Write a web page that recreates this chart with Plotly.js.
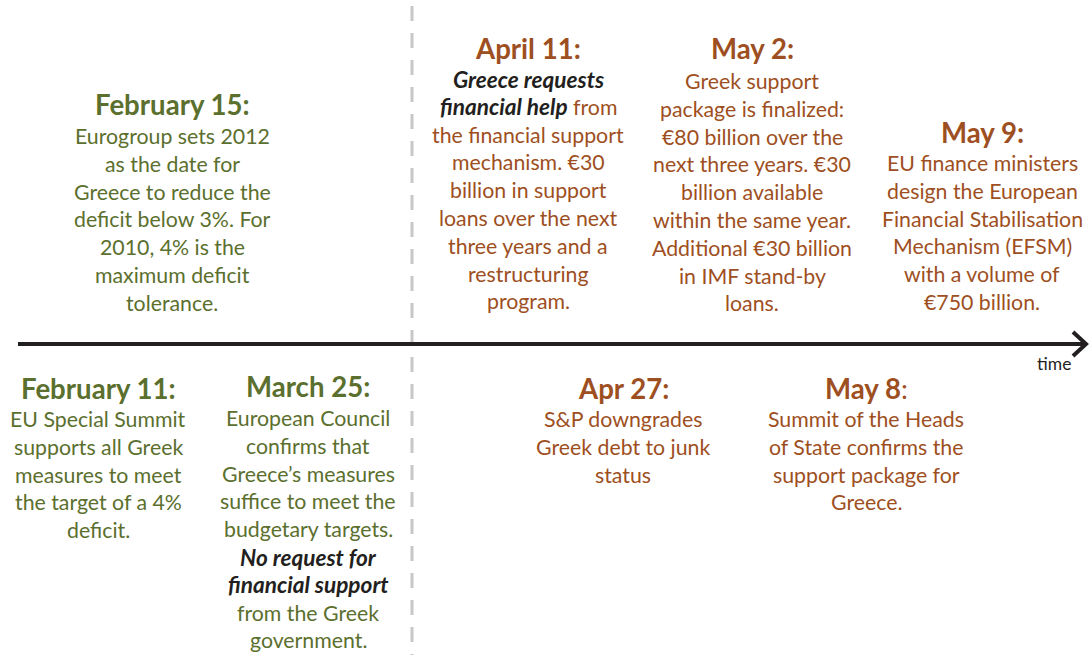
<!DOCTYPE html>
<html>
<head>
<meta charset="utf-8">
<script src="https://cdn.plot.ly/plotly-3.0.1.min.js"></script>
<style>html,body{margin:0;padding:0;background:#fff;}#chart{width:1089px;height:655px;}</style>
</head>
<body>
<div id="chart"></div>
<script>
// ---- Data: timeline events ----
var eventTitles = ["February 15:", "April 11:", "May 2:", "May 9:", "February 11:", "March 25:", "Apr 27:", "May 8:"];
var eventGroups = ["green", "brown", "brown", "brown", "green", "green", "brown", "brown"];
var eventSides = ["above", "above", "above", "above", "below", "below", "below", "below"];
var eventBodies = [
  ["Eurogroup sets 2012", "as the date for", "Greece to reduce the", "deficit below 3%. For", "2010, 4% is the", "maximum deficit", "tolerance."],
  ["<b><i>Greece requests</i></b>", "<b><i>financial help</i></b> {c}from", "{c}the financial support", "{c}mechanism. €30", "{c}billion in support", "{c}loans over the next", "{c}three years and a", "{c}restructuring", "{c}program."],
  ["Greek support", "package is finalized:", "€80 billion over the", "next three years. €30", "billion available", "within the same year.", "Additional €30 billion", "in IMF stand-by", "loans."],
  ["EU finance ministers", "design the European", "Financial Stabilisation", "Mechanism (EFSM)", "with a volume of", "€750 billion."],
  ["EU Special Summit", "supports all Greek", "measures to meet", "the target of a 4%", "deficit."],
  ["European Council", "confirms that", "Greece’s measures", "suffice to meet the", "budgetary targets.", "<b><i>No request for</i></b>", "<b><i>financial support</i></b>", "{c}from the Greek", "{c}government."],
  ["S&P downgrades", "Greek debt to junk", "status"],
  ["Summit of the Heads", "of State confirms the", "support package for", "Greece."]
];
var axisLabel = "time";

// ---- Layout positions (pixel space) ----
var eventCenterX = [172, 528, 752, 982, 98, 308, 623, 866];
var eventTitleY = [104, 48, 48, 132, 388, 386, 388, 388];
var eventFirstLineY = [136, 79, 81, 163, 419, 418, 419, 419];

var colors = {green: "#5b6f2e", brown: "#9e4f22", dark: "#231f20"};
var lineGap = 27.8;
var bodySize = 21.3;
var emphSize = 22.6;
var titleSize = 27.6;
var fontFam = "Lato, 'Open Sans', sans-serif";

var annotations = [];
for (var i = 0; i < eventTitles.length; i++) {
  var col = colors[eventGroups[i]];
  var t = eventTitles[i];
  var titleText = "<b>" + t + "</b>";
  if (t === "May 8:") titleText = "<b>May 8</b>:";
  annotations.push({
    x: eventCenterX[i], y: eventTitleY[i], xref: "x", yref: "y",
    text: titleText, showarrow: false, xanchor: "center", yanchor: "middle",
    font: {family: fontFam, size: titleSize, color: col}
  });
  var lines = eventBodies[i];
  for (var j = 0; j < lines.length; j++) {
    var ln = lines[j];
    var isBlack = ln.indexOf("<b><i>") === 0;
    var txt = ln;
    if (isBlack) {
      txt = txt.replace(/<b><i>(.*?)<\/i><\/b>/, "<b><i><span style='font-size:" + emphSize + "px'>$1</span></i></b>");
    }
    if (txt.indexOf("{c}") >= 0) {
      txt = txt.replace("{c}", "<span style='color:" + col + "'>") + "</span>";
    }
    annotations.push({
      x: eventCenterX[i], y: eventFirstLineY[i] + j * lineGap, xref: "x", yref: "y",
      text: txt, showarrow: false, xanchor: "center", yanchor: "middle",
      font: {family: fontFam, size: bodySize, color: isBlack ? colors.dark : col}
    });
  }
}
annotations.push({
  x: 1054, y: 363, xref: "x", yref: "y", text: axisLabel, showarrow: false,
  xanchor: "center", yanchor: "middle",
  font: {family: fontFam, size: 17.5, color: colors.dark}
});

var shapes = [
  {type: "line", xref: "x", yref: "y", x0: 412, x1: 412, y0: 6, y1: 655,
   line: {color: "#c8c8c8", width: 3, dash: "15px,12px"}},
  {type: "line", xref: "x", yref: "y", x0: 18, x1: 1085, y0: 344, y1: 344,
   line: {color: colors.dark, width: 4}},
  {type: "path", xref: "x", yref: "y", path: "M 1073 332 L 1086 344 L 1073 356",
   line: {color: colors.dark, width: 4}}
];

var layout = {
  width: 1089, height: 655,
  margin: {l: 0, r: 0, t: 0, b: 0},
  paper_bgcolor: "#ffffff", plot_bgcolor: "#ffffff",
  xaxis: {range: [0, 1089], visible: false, fixedrange: true},
  yaxis: {range: [655, 0], visible: false, fixedrange: true},
  showlegend: false,
  annotations: annotations,
  shapes: shapes
};

Plotly.newPlot("chart", [{x: [], y: [], type: "scatter", mode: "markers"}], layout, {staticPlot: true, displayModeBar: false});
</script>
</body>
</html>
